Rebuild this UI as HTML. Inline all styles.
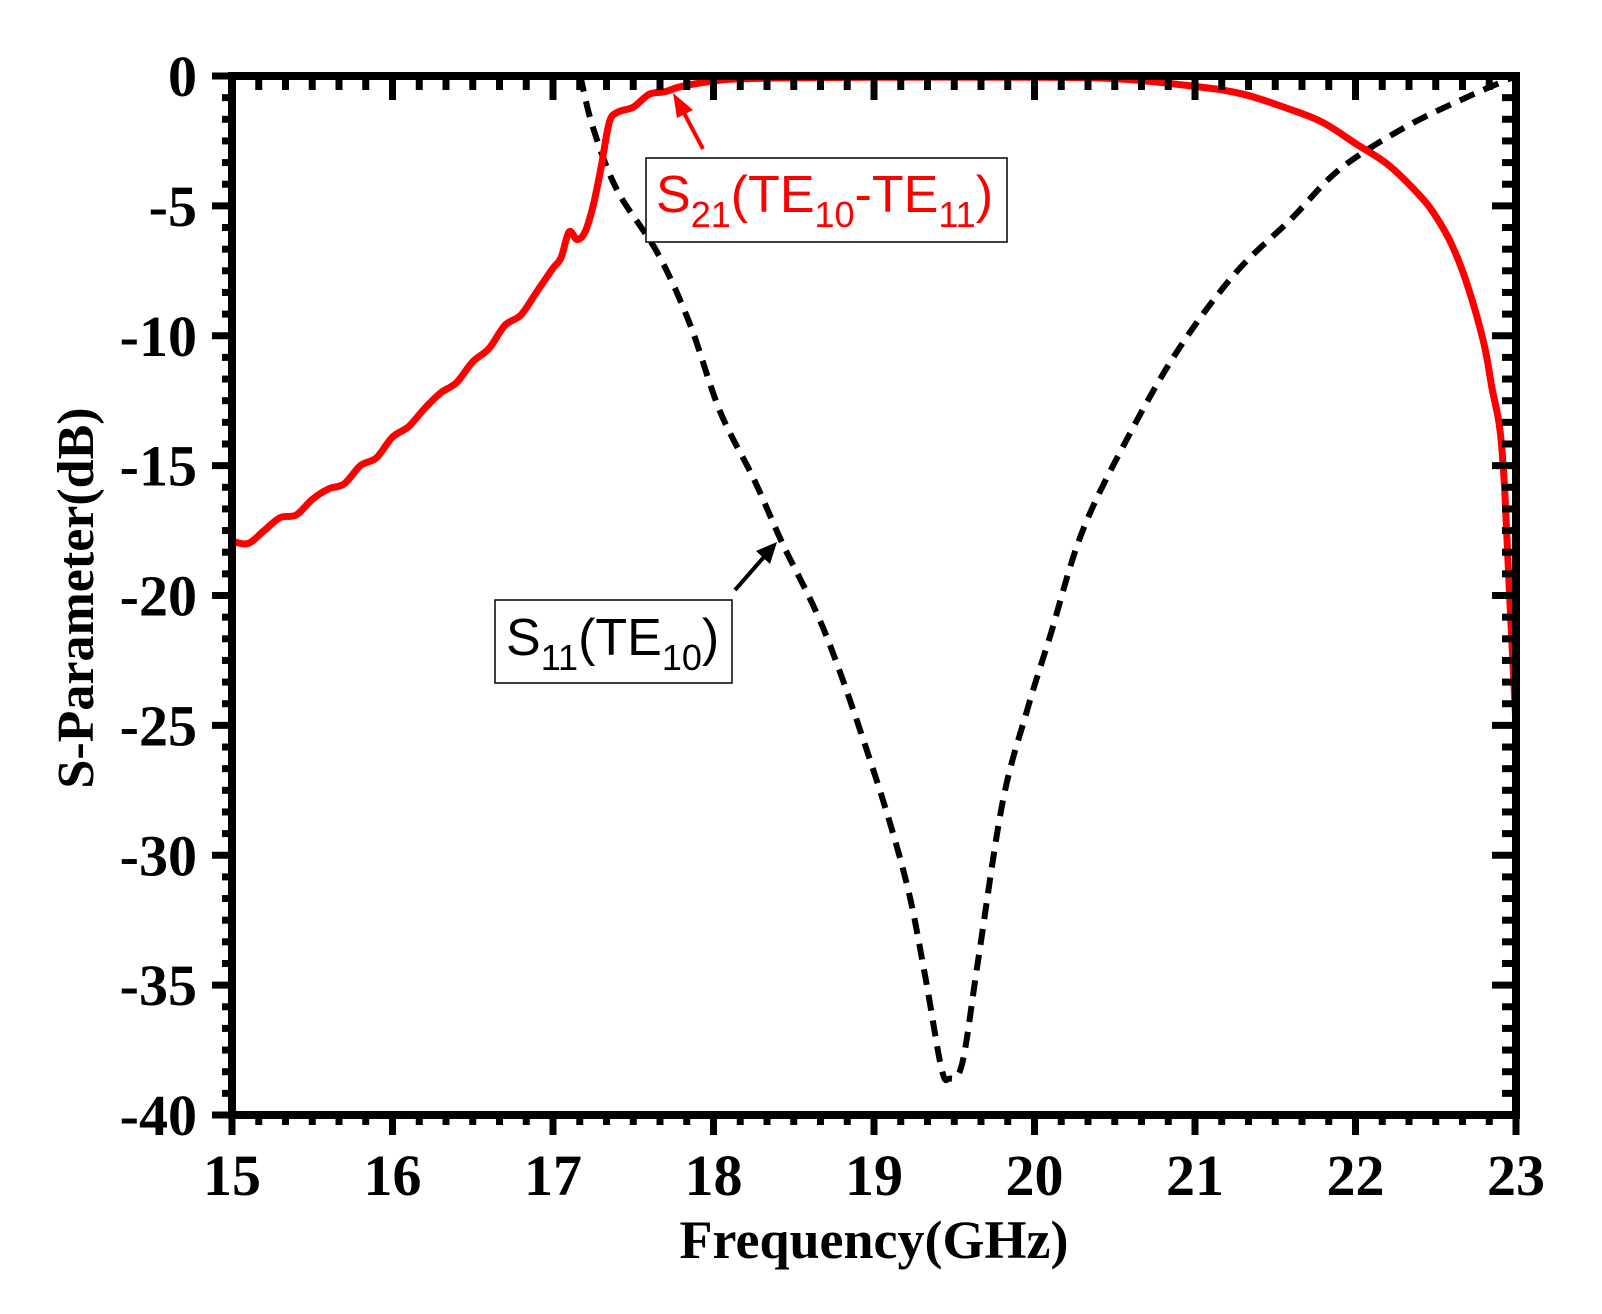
<!DOCTYPE html>
<html><head><meta charset="utf-8"><style>
html,body{margin:0;padding:0;background:#fff}
svg{display:block}
</style></head><body>
<svg id="s" width="1602" height="1314" xmlns="http://www.w3.org/2000/svg">
<g id="curves"></g>
<g id="axes"></g>
<g font-family="Liberation Serif, serif" font-weight="bold" font-size="58" fill="#000">
<g text-anchor="end" id="ylab"></g>
<g text-anchor="middle" id="xlab"></g>
<text x="874" y="1258" text-anchor="middle" font-size="54">Frequency(GHz)</text>
<text transform="translate(93,598) rotate(-90)" text-anchor="middle" font-size="52">S-Parameter(dB)</text>
</g>
<g font-family="Liberation Sans, Arial, sans-serif">
<rect x="646" y="158" width="361" height="84" fill="#fff" stroke="#000" stroke-width="1.5"/>
<text x="656" y="212" fill="#f00" font-size="52">S<tspan font-size="36" dy="15">21</tspan><tspan dy="-15">(TE</tspan><tspan font-size="36" dy="15">10</tspan><tspan dy="-15">-TE</tspan><tspan font-size="36" dy="15">11</tspan><tspan dy="-15">)</tspan></text>
<rect x="495" y="600" width="237" height="83" fill="#fff" stroke="#000" stroke-width="1.5"/>
<text x="506" y="655" fill="#000" font-size="52">S<tspan font-size="36" dy="15">11</tspan><tspan dy="-15">(TE</tspan><tspan font-size="36" dy="15">10</tspan><tspan dy="-15">)</tspan></text>
</g>
<line x1="703" y1="149" x2="684" y2="113" stroke="#f00" stroke-width="4"/>
<polygon points="673,93 693,110 677,118" fill="#f00"/>
<line x1="735" y1="590" x2="764" y2="557" stroke="#000" stroke-width="4"/>
<polygon points="777,542 770,564 756,551" fill="#000"/>
</svg>
<script>
const X=f=>232+160.5*(f-15), Y=d=>76-25.975*d;
function path(pts){
  const P=pts.map(p=>[X(p[0]),Y(p[1])]);
  let s='M'+P[0][0].toFixed(1)+','+P[0][1].toFixed(1);
  for(let i=0;i<P.length-1;i++){
    const p0=P[Math.max(0,i-1)],p1=P[i],p2=P[i+1],p3=P[Math.min(P.length-1,i+2)];
    const c1=[p1[0]+(p2[0]-p0[0])/6,p1[1]+(p2[1]-p0[1])/6];
    const c2=[p2[0]-(p3[0]-p1[0])/6,p2[1]-(p3[1]-p1[1])/6];
    s+=' C'+c1.map(v=>v.toFixed(1))+' '+c2.map(v=>v.toFixed(1))+' '+p2.map(v=>v.toFixed(1));
  }
  return s;
}
const s21=[[15,-17.9],[15.1,-18.0],[15.2,-17.5],[15.3,-17.0],[15.4,-16.9],[15.5,-16.3],[15.6,-15.9],[15.7,-15.7],[15.8,-15.0],[15.9,-14.7],[16.0,-13.9],[16.1,-13.5],[16.2,-12.8],[16.3,-12.2],[16.4,-11.8],[16.5,-11.0],[16.6,-10.5],[16.7,-9.6],[16.8,-9.2],[16.9,-8.3],[17.0,-7.4],[17.05,-7.0],[17.1,-6.0],[17.15,-6.3],[17.2,-6.0],[17.25,-5.0],[17.3,-3.5],[17.35,-1.8],[17.4,-1.4],[17.5,-1.2],[17.6,-0.7],[17.7,-0.6],[17.8,-0.4],[18,-0.2],[18.2,-0.1],[19,-0.05],[20,-0.05],[20.5,-0.1],[21,-0.4],[21.3,-0.7],[21.6,-1.3],[21.8,-1.8],[22,-2.6],[22.2,-3.4],[22.4,-4.6],[22.5,-5.4],[22.6,-6.5],[22.7,-8.1],[22.8,-10.3],[22.85,-12],[22.9,-13.6],[22.93,-16],[22.96,-20],[23,-25]];
const s11=[[17.17,0],[17.25,-2],[17.4,-4.4],[17.65,-6.8],[17.85,-9.5],[18.04,-12.9],[18.25,-15.5],[18.43,-18],[18.7,-21.5],[19.0,-26.8],[19.2,-31],[19.32,-34.7],[19.42,-38.2],[19.47,-38.6],[19.55,-38.0],[19.65,-34],[19.8,-28],[19.95,-24.5],[20.1,-21.5],[20.3,-17.5],[20.6,-13.7],[20.9,-10.5],[21.25,-7.6],[21.6,-5.5],[21.9,-3.6],[22.3,-2.0],[22.7,-0.8],[23,0]];
let h='<path d="'+path(s11)+'" fill="none" stroke="#000" stroke-width="6" stroke-dasharray="16,10"/>';
h+='<path d="'+path(s21)+'" fill="none" stroke="#f00" stroke-width="7" stroke-linejoin="round"/>';
document.getElementById('curves').innerHTML=h;
let a='<rect x="232" y="76" width="1284" height="1039" fill="none" stroke="#000" stroke-width="8"/>';
for(let i=0;i<=48;i++){const x=232+1284*i/48,L=i%6==0?20:10;
  a+=`<line x1="${x}" y1="80" x2="${x}" y2="${80+L}" stroke="#000" stroke-width="7"/>`;
  a+=`<line x1="${x}" y1="1115" x2="${x}" y2="${1115+L}" stroke="#000" stroke-width="7"/>`;}
for(let i=0;i<=48;i++){const y=76+1039*i/48,L=i%6==0?20:10;
  a+=`<line x1="232" y1="${y}" x2="${232-L}" y2="${y}" stroke="#000" stroke-width="7"/>`;
  a+=`<line x1="1512" y1="${y}" x2="${1512-L}" y2="${y}" stroke="#000" stroke-width="7"/>`;}
document.getElementById('axes').innerHTML=a;
let yl='';for(let k=0;k<=8;k++){yl+=`<text x="197" y="${Y(-5*k)+20}">${k?'-'+5*k:'0'}</text>`;}
document.getElementById('ylab').innerHTML=yl;
let xl='';for(let k=15;k<=23;k++){xl+=`<text x="${X(k)}" y="1195">${k}</text>`;}
document.getElementById('xlab').innerHTML=xl;
</script>
</body></html>
